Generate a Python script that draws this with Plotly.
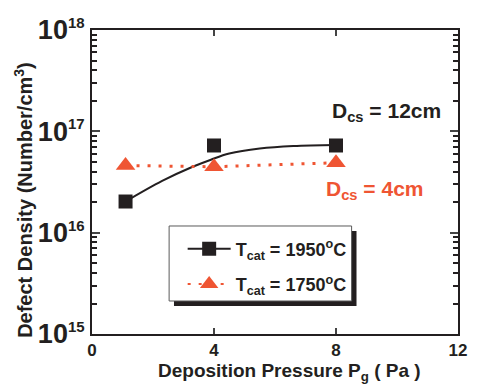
import plotly.graph_objects as go

# Measured defect density vs deposition pressure
pressure = [1.1, 4.0, 8.0]
density_1950 = [2.03e16, 7.25e16, 7.25e16]
density_1750 = [4.6e16, 4.47e16, 4.9e16]

# Saturation fit through the 1950 °C points
fit_pressure = [1.1, 2.3, 3.3, 3.9, 4.5, 5.5, 6.6, 8.0]
fit_density = [2.03e16, 3.24e16, 4.47e16, 5.25e16, 6.03e16, 6.76e16, 7.16e16, 7.33e16]

x_ticks = [0, 4, 8, 12]
y_decades = [15, 16, 17, 18]

BLACK = "#231F20"
ORANGE = "#EF5533"
FONT = "Liberation Sans"

fig = go.Figure()

fig.add_trace(go.Scatter(
    x=fit_pressure, y=fit_density, mode="lines", line=dict(color=BLACK, width=2),
    line_shape="spline", showlegend=False, hoverinfo="skip"))

fig.add_trace(go.Scatter(
    x=pressure, y=density_1950, mode="markers",
    marker=dict(symbol="square", size=14, color=BLACK),
    showlegend=False))

fig.add_trace(go.Scatter(
    x=pressure, y=density_1750, mode="lines+markers",
    line=dict(color=ORANGE, width=3, dash="3px,8px"),
    marker=dict(symbol="triangle-up", size=17, color=ORANGE),
    showlegend=False))

# Legend entries
fig.add_trace(go.Scatter(
    x=[None], y=[None], mode="lines+markers",
    line=dict(color=BLACK, width=2),
    marker=dict(symbol="square", size=14, color=BLACK),
    name="T<sub>cat</sub> = 1950<sup>o</sup>C", legendgroup="a"))
fig.add_trace(go.Scatter(
    x=[None], y=[None], mode="lines+markers",
    line=dict(color=ORANGE, width=2, dash="3px,8px"),
    marker=dict(symbol="triangle-up", size=17, color=ORANGE),
    name="T<sub>cat</sub> = 1750<sup>o</sup>C", legendgroup="b"))

tick_vals = [10.0 ** d for d in y_decades]
tick_text = ["10<sup><span style='font-size:15px'>%d</span></sup>" % d for d in y_decades]
minor_vals = [m * 10.0 ** d for d in y_decades[:-1] for m in range(2, 10)]

fig.update_layout(
    width=479, height=385,
    margin=dict(l=92, r=12, t=30, b=51),
    paper_bgcolor="white", plot_bgcolor="white",
    font=dict(family=FONT, color=BLACK, weight="bold"),
    showlegend=True,
    legend=dict(
        x=0.2477, y=0.3405, xanchor="left", yanchor="top",
        bgcolor="rgba(0,0,0,0)", borderwidth=0, itemwidth=43,
        font=dict(size=18, family=FONT, color=BLACK, weight="bold"),
        tracegroupgap=9, traceorder="grouped",
    ),
    xaxis=dict(
        range=[0, 12], tickvals=x_ticks, ticks="inside", ticklen=6, tickwidth=2,
        showline=True, linecolor=BLACK, linewidth=2, mirror="ticks",
        showgrid=False, zeroline=False,
        tickfont=dict(size=17, family=FONT, color=BLACK, weight="bold"),
    ),
    yaxis=dict(
        type="log", range=[15, 18], tickvals=tick_vals, ticktext=tick_text,
        ticks="inside", ticklen=8, tickwidth=2,
        minor=dict(tickvals=minor_vals, ticks="inside", ticklen=5, tickwidth=1.5,
                   tickcolor=BLACK),
        showline=True, linecolor=BLACK, linewidth=2, mirror="ticks",
        showgrid=False, zeroline=False,
        tickfont=dict(size=27, family=FONT, color=BLACK, weight="bold"),
    ),
)

# Axis titles
fig.add_annotation(x=0.54, y=-0.125, xref="paper", yref="paper",
                   xanchor="center", yanchor="middle", showarrow=False,
                   text="Deposition Pressure P<sub>g</sub> ( Pa )",
                   font=dict(size=19, family=FONT, color=BLACK, weight="bold"))
fig.add_annotation(x=-0.186, y=0.441, xref="paper", yref="paper",
                   xanchor="center", yanchor="middle", showarrow=False, textangle=-90,
                   text="Defect Density (Number/cm<sup>3</sup>)",
                   font=dict(size=20, family=FONT, color=BLACK, weight="bold"))

# Legend frame with its drop shadow
fig.add_shape(type="rect", xref="paper", yref="paper",
              x0=0.224, x1=0.7227, y0=0.0921, y1=0.3388,
              fillcolor=BLACK, line=dict(width=0), layer="above")
fig.add_shape(type="rect", xref="paper", yref="paper",
              x0=0.2107, x1=0.7093, y0=0.1086, y1=0.3553,
              fillcolor="white", line=dict(color="#5A5A5A", width=1), layer="above")

fig.add_annotation(x=7.8, y=17.19, xref="x", yref="y", xanchor="left", yanchor="middle",
                   text="D<sub>cs</sub> = 12cm", showarrow=False,
                   font=dict(size=21, family=FONT, color=BLACK, weight="bold"))
fig.add_annotation(x=7.62, y=16.42, xref="x", yref="y", xanchor="left", yanchor="middle",
                   text="D<sub>cs</sub> = 4cm", showarrow=False,
                   font=dict(size=21, family=FONT, color=ORANGE, weight="bold"))

fig.write_html("out.html")
